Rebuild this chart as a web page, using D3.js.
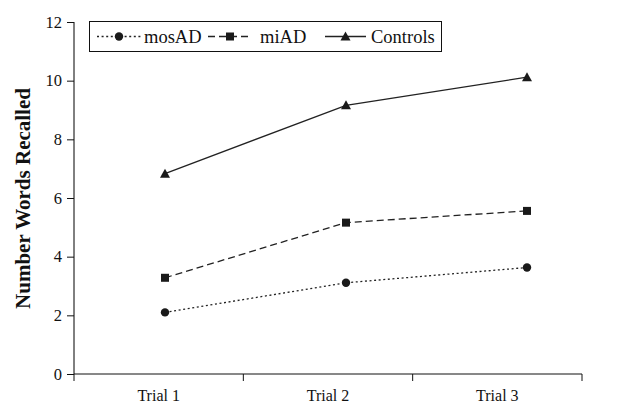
<!DOCTYPE html>
<html>
<head>
<meta charset="utf-8">
<script src="https://cdn.jsdelivr.net/npm/d3@7"></script>
<style>
body { margin: 0; background: #fff; }
text { font-family: "Liberation Serif", "Times New Roman", serif; fill: #111; }
</style>
</head>
<body>
<script>
// data
var trials = ["Trial 1", "Trial 2", "Trial 3"];
var mosAD = [2.1, 3.11, 3.63];
var miAD = [3.28, 5.16, 5.56];
var controls = [6.83, 9.16, 10.12];
var yTicks = [0, 2, 4, 6, 8, 10, 12];

var series = [
  {name: "mosAD", values: mosAD, dash: "2,2.6", marker: "circle"},
  {name: "miAD", values: miAD, dash: "7,4", marker: "square"},
  {name: "Controls", values: controls, dash: null, marker: "triangle"}
];

var width = 618, height = 405;
var svg = d3.select("body").append("svg")
    .attr("width", width)
    .attr("height", height);

// axis scale (bands for labels) and point scale for the markers
var xBand = d3.scaleBand().domain(trials).range([74, 582]);
var xPts = d3.scalePoint().domain(trials).range([165, 527]);
var yScale = d3.scaleLinear().domain([0, 12]).range([374, 22]);

// y axis
var yAxis = svg.append("g")
    .attr("transform", "translate(74,0)")
    .call(d3.axisLeft(yScale).tickValues(yTicks).tickSize(7).tickPadding(5));
yAxis.select(".domain").attr("d", "M0," + yScale(12) + "V" + yScale(0));
yAxis.selectAll("line").attr("stroke", "#111");
yAxis.selectAll("text").style("font-size", "16.5px")
    .style("font-family", "'Liberation Serif', serif");

// x axis with ticks at band edges
var xAxis = svg.append("g").attr("transform", "translate(0,374)");
xAxis.append("line")
    .attr("x1", 74).attr("x2", 582)
    .attr("stroke", "#111");
var edges = trials.map(function(t) { return xBand(t); }).concat([xBand.range()[1]]);
xAxis.selectAll(".tk").data(edges).enter().append("line")
    .attr("x1", function(d) { return d; }).attr("x2", function(d) { return d; })
    .attr("y1", 0).attr("y2", 7)
    .attr("stroke", "#111");
xAxis.selectAll(".lb").data(trials).enter().append("text")
    .attr("x", function(d) { return xBand(d) + xBand.bandwidth() / 2; })
    .attr("y", 27)
    .attr("text-anchor", "middle")
    .style("font-size", "16px")
    .text(function(d) { return d; });

// y axis title
svg.append("text")
    .attr("transform", "translate(30,198.5)rotate(-90)")
    .attr("text-anchor", "middle")
    .style("font-size", "21px")
    .style("font-weight", "bold")
    .text("Number Words Recalled");

var line = d3.line()
    .x(function(d, i) { return xPts(trials[i]); })
    .y(function(d) { return yScale(d); });

function drawMarker(g, type, x, y) {
  if (type == "circle") {
    g.append("circle").attr("cx", x).attr("cy", y).attr("r", 4.2).attr("fill", "#1a1a1a");
  } else if (type == "square") {
    g.append("rect").attr("x", x - 4).attr("y", y - 4).attr("width", 8).attr("height", 8).attr("fill", "#1a1a1a");
  } else {
    g.append("path")
      .attr("d", "M" + x + "," + (y - 5) + "L" + (x + 5) + "," + (y + 4) + "L" + (x - 5) + "," + (y + 4) + "Z")
      .attr("fill", "#1a1a1a");
  }
}

var plot = svg.append("g");
series.forEach(function(s) {
  plot.append("path")
      .datum(s.values)
      .attr("d", line)
      .attr("fill", "none")
      .attr("stroke", "#222")
      .attr("stroke-width", 1.3)
      .attr("stroke-dasharray", s.dash);
  s.values.forEach(function(v, i) {
    drawMarker(plot, s.marker, xPts(trials[i]), yScale(v));
  });
});

// legend
var legend = svg.append("g");
legend.append("rect")
    .attr("x", 89.5).attr("y", 21.5)
    .attr("width", 352).attr("height", 30)
    .attr("fill", "#fff").attr("stroke", "#111").attr("stroke-width", 1);

var legendPos = [
  {x1: 97, x2: 141, tx: 144},
  {x1: 208, x2: 252, tx: 260},
  {x1: 325, x2: 366, tx: 371}
];
series.forEach(function(s, i) {
  var p = legendPos[i];
  legend.append("line")
      .attr("x1", p.x1).attr("x2", p.x2)
      .attr("y1", 36.5).attr("y2", 36.5)
      .attr("stroke", "#222").attr("stroke-width", 1.3)
      .attr("stroke-dasharray", s.dash);
  drawMarker(legend, s.marker, (p.x1 + p.x2) / 2, 36.5);
  legend.append("text")
      .attr("x", p.tx).attr("y", 42.5)
      .style("font-size", "18.5px")
      .text(s.name);
});
</script>
</body>
</html>
